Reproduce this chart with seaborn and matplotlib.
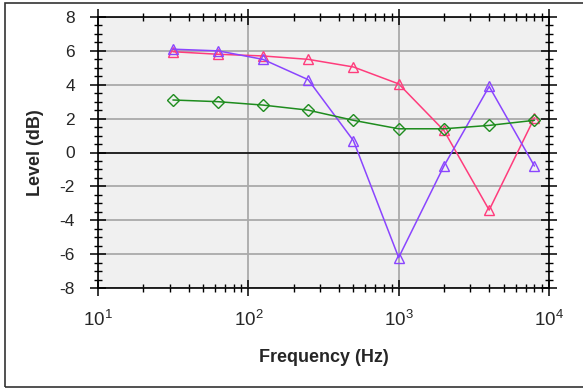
import matplotlib
matplotlib.use("Agg")
import matplotlib.pyplot as plt
import seaborn as sns
import pandas as pd
import numpy as np
from matplotlib.ticker import LogLocator, MultipleLocator, NullFormatter
from matplotlib.patches import Rectangle

freqs = [31.5, 63, 125, 250, 500, 1000, 2000, 4000, 8000]
pink = [5.95, 5.8, 5.7, 5.5, 5.05, 4.05, 1.3, -3.4, 2.05]
purple = [6.1, 6.0, 5.5, 4.3, 0.7, -6.2, -0.8, 3.9, -0.8]
green = [3.1, 3.0, 2.8, 2.5, 1.9, 1.4, 1.4, 1.6, 1.9]
series_names = ["A", "B", "C"]
colors = ["#FF3C7C", "#8A45FF", "#1E8C1E"]
markers = ["^", "^", "D"]

sns.set_theme(style="ticks")
plt.rcParams['font.family'] = ['Liberation Sans', 'DejaVu Sans']
plt.rcParams['mathtext.fontset'] = 'custom'
plt.rcParams['mathtext.rm'] = 'Liberation Sans'
plt.rcParams['mathtext.it'] = 'Liberation Sans'

df = pd.DataFrame({
    "freq": freqs * 3,
    "level": pink + purple + green,
    "series": [n for n in series_names for _ in freqs],
})

fig = plt.figure(figsize=(5.83, 3.89), dpi=100)
W, H = 583, 389
ax = fig.add_axes([98 / W, 1 - 288 / H, (549 - 98) / W, (288 - 17) / H])
ax.set_facecolor("#F0F0F0")

for name, c, m in zip(series_names, colors, markers):
    sub = df[df.series == name]
    sns.lineplot(data=sub, x="freq", y="level", ax=ax, color=c, lw=1.1,
                 marker=m, markersize=7 if m == "^" else 6,
                 markerfacecolor="none", markeredgecolor=c, markeredgewidth=1.0,
                 legend=False, zorder=3)

ax.set_xscale("log")
ax.set_xlim(10, 10000)
ax.set_ylim(-8, 8)
ax.yaxis.set_minor_locator(MultipleLocator(0.5))
ax.xaxis.set_minor_locator(LogLocator(base=10, subs=np.arange(2, 10)))
ax.xaxis.set_minor_formatter(NullFormatter())
ax.set_yticks(range(-8, 9, 2))
ax.set_yticklabels([str(v) for v in range(-8, 9, 2)])
ax.set_xticks([10, 100, 1000, 10000])
ax.set_xticklabels([r"$10^{1}$", r"$10^{2}$", r"$10^{3}$", r"$10^{4}$"])

ax.grid(True, which="major", color="#AAAAAA", lw=1.3, zorder=0)
ax.axhline(0, color="black", lw=1.1, zorder=1)
ax.set_axisbelow(True)

ax.tick_params(which="major", direction="inout", length=11, width=1.1, color="black",
               top=True, right=True, labelsize=12.5)
ax.tick_params(which="minor", direction="inout", length=6, width=1.0, color="black",
               top=True, right=True)
ax.tick_params(axis="y", which="major", pad=11)
ax.tick_params(axis="x", which="major", pad=10, labelsize=13.5)
for s in ax.spines.values():
    s.set_color("black")
    s.set_linewidth(1.2)

ax.set_xlabel("Frequency (Hz)", fontsize=13, fontweight="bold", labelpad=14)
ax.set_ylabel("Level (dB)", fontsize=13, fontweight="bold", labelpad=11)

fig.patches.append(Rectangle((5 / W, 2 / H), 1.2, 1 - 5 / H, transform=fig.transFigure,
                             fill=False, edgecolor="#333333", lw=1.2))

fig.savefig("out.png", dpi=100)
